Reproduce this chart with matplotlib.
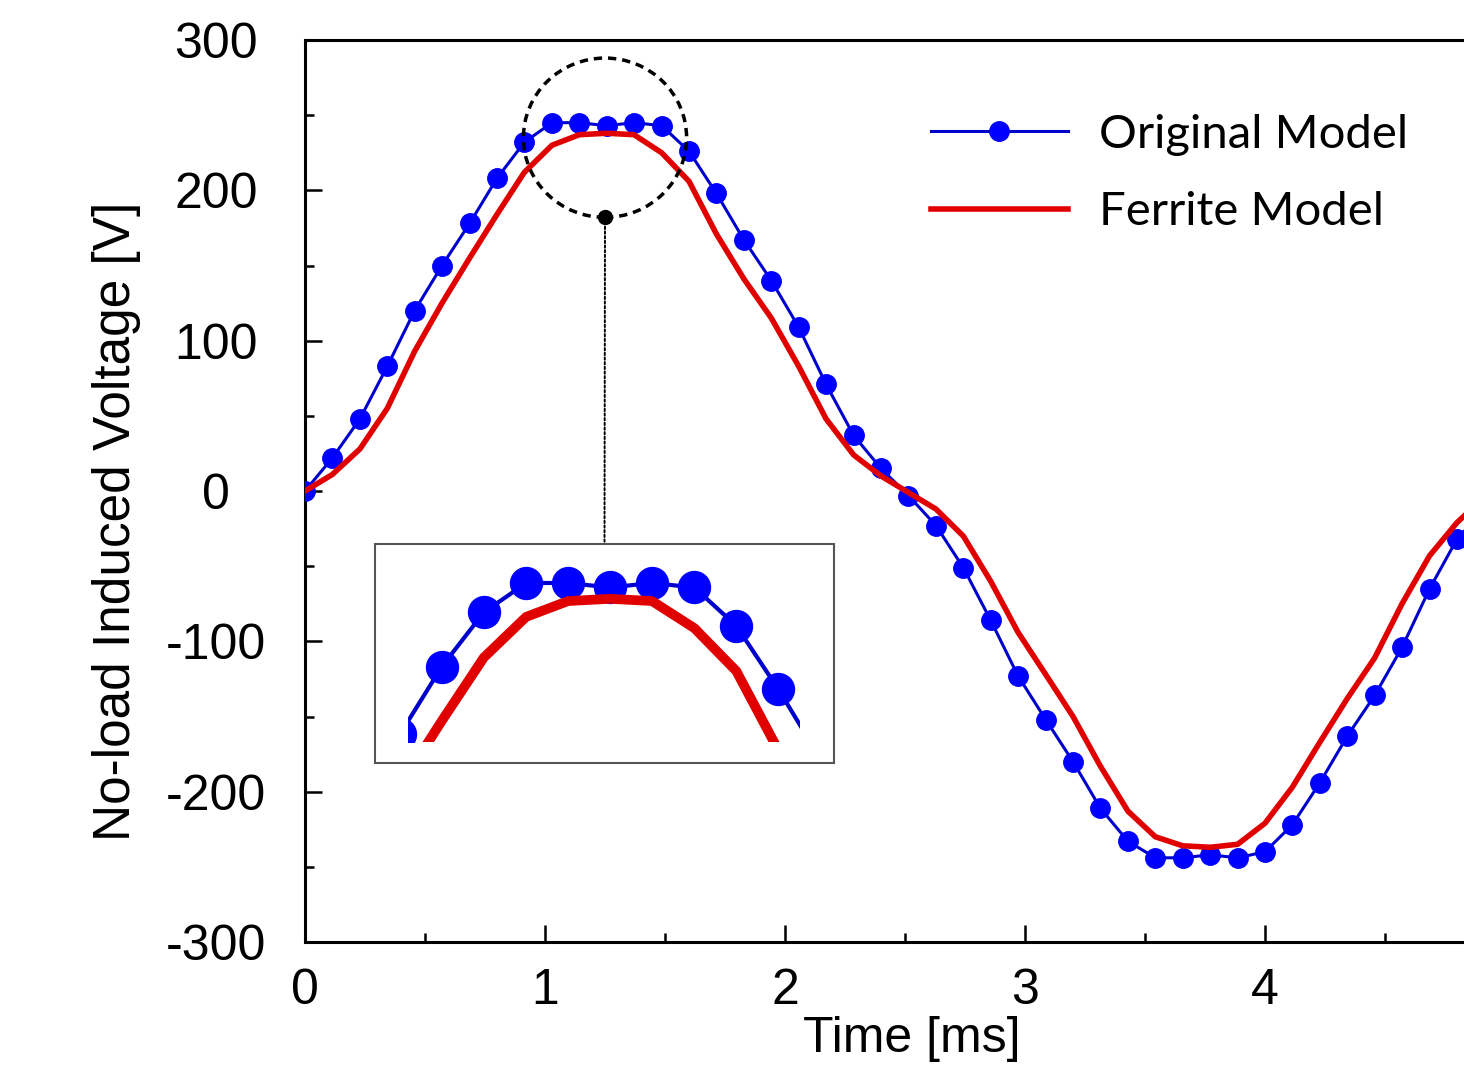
import matplotlib
matplotlib.use("Agg")
import matplotlib.pyplot as plt
from matplotlib.patches import Ellipse, Rectangle, ConnectionPatch
from matplotlib.ticker import MultipleLocator

plt.rcParams["font.family"] = ["Liberation Sans", "DejaVu Sans"]
plt.rcParams["axes.unicode_minus"] = False

# sample times [ms]
time_ms = [0.000, 0.114, 0.229, 0.343, 0.457, 0.571, 0.686, 0.800, 0.914, 1.029,
           1.143, 1.257, 1.371, 1.486, 1.600, 1.714, 1.829, 1.943, 2.057, 2.171,
           2.286, 2.400, 2.514, 2.629, 2.743, 2.857, 2.971, 3.086, 3.200, 3.314,
           3.429, 3.543, 3.657, 3.771, 3.886, 4.000, 4.114, 4.229, 4.343, 4.457,
           4.571, 4.686, 4.800, 4.914]

# no-load EMF [V]
original_v = [0, 22, 48, 83, 120, 150, 178, 208, 232, 245,
              245, 243, 245, 243, 226, 198, 167, 140, 109, 71,
              37, 15, -3, -23, -51, -86, -123, -152, -180, -211,
              -233, -244, -244, -242, -244, -240, -222, -194, -163, -136,
              -104, -65, -32, -12]

ferrite_v = [0, 11, 28, 55, 93, 125, 155, 184, 212, 230,
             237, 238, 237, 225, 206, 171, 141, 115, 83, 48,
             24, 10, -1, -12, -30, -60, -94, -122, -150, -183,
             -213, -230, -236, -237, -235, -221, -197, -167, -138, -111,
             -75, -43, -21, -4]

labels = ["Original Model", "Ferrite Model"]
x_ticks = [0, 1, 2, 3, 4]

blue_line = "#0000cc"
blue_mark = "#0000ff"
red = "#e00000"

W, H = 1464, 1068
fig = plt.figure(figsize=(W / 100, H / 100), dpi=100)

# main axes runs past the right edge of the canvas
ax = fig.add_axes([305 / W, 1 - 942 / H, 1200 / W, 902 / H])
ax.plot(time_ms, original_v, color=blue_line, lw=2.2, marker="o", ms=14,
        mfc=blue_mark, mec=blue_mark, label=labels[0], zorder=3)
ax.plot(time_ms, ferrite_v, color=red, lw=4.0, label=labels[1], zorder=4)

ax.set_xlim(0, 5)
ax.set_ylim(-300, 300)
ax.set_xticks(x_ticks)
ax.xaxis.set_minor_locator(MultipleLocator(0.5))
ax.yaxis.set_major_locator(MultipleLocator(100))
ax.yaxis.set_minor_locator(MultipleLocator(50))
ax.tick_params(which="both", direction="in", width=1.8, labelsize=36)
ax.tick_params(which="major", length=12)
ax.tick_params(which="minor", length=6.5)
ax.tick_params(axis="x", pad=19)
ax.tick_params(axis="y", pad=64)
for lab in ax.get_yticklabels():
    lab.set_horizontalalignment("center")
for sp in ax.spines.values():
    sp.set_linewidth(2.2)
ax.spines["right"].set_visible(False)

ax.set_xlabel("Time [ms]", fontsize=36)
ax.xaxis.set_label_coords(0.5058, -0.108)
ax.xaxis.label.set_va("center")
ax.set_ylabel("No-load Induced Voltage [V]", fontsize=37)
ax.yaxis.set_label_coords(-0.1567, 0.466)
ax.yaxis.label.set_va("center")

leg = ax.legend(loc="upper left", bbox_to_anchor=(931 / W, 1 - 114 / H),
                bbox_transform=fig.transFigure, frameon=False,
                prop={"family": "Lato", "size": 34}, handlelength=2.9,
                handletextpad=0.65, labelspacing=0.75, borderpad=0,
                borderaxespad=0)

# dashed ring round the peak and its marker dot
ring = Ellipse((1.25, 235), 0.68, 106, fill=False, ec="black", lw=2.5,
               ls=(0, (2.4, 1.7)), zorder=5)
ax.add_patch(ring)
ax.plot([1.25], [182], "o", color="black", ms=10, zorder=6)

# zoomed view of the peak
box = Rectangle((375 / W, 1 - 763 / H), 459 / W, 219 / H, transform=fig.transFigure,
                fill=False, ec="#555555", lw=1.5, zorder=7)
fig.patches.append(box)

con = ConnectionPatch(xyA=(1.25, 182), coordsA="data", axesA=ax,
                      xyB=(604.5 / W, 1 - 544 / H), coordsB=fig.transFigure,
                      color="black", lw=1.4, ls=(0, (1.2, 1.2)), zorder=6)
fig.add_artist(con)

axin = fig.add_axes([408 / W, 1 - 742 / H, 392 / W, 192 / H])
axin.plot(time_ms, original_v, color=blue_line, lw=3.0, marker="o", ms=23,
          mfc=blue_mark, mec=blue_mark)
axin.plot(time_ms, ferrite_v, color=red, lw=7.0)
axin.set_xlim(0.708, 1.773)
axin.set_ylim(174.6, 259.6)
axin.axis("off")

fig.savefig("out.png", dpi=100)
